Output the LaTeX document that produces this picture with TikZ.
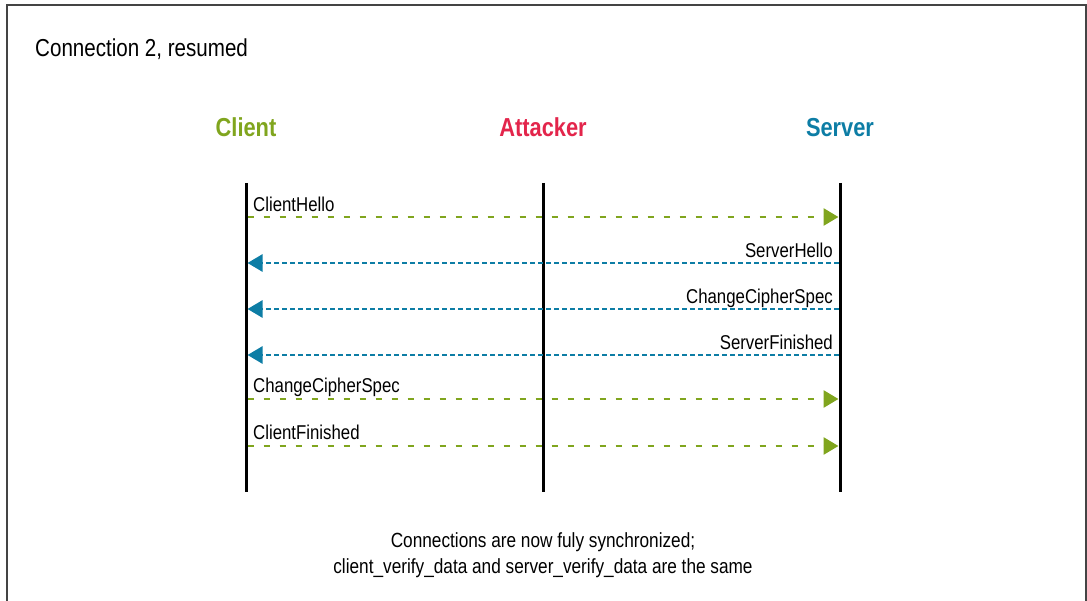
\documentclass[tikz,border=0pt]{standalone}
\usepackage{fontspec}
\setmainfont{Liberation Sans}[FakeStretch=0.84]
\usetikzlibrary{arrows.meta}
\definecolor{cgreen}{HTML}{80A51E}
\definecolor{cred}{HTML}{E3254B}
\definecolor{cblue}{HTML}{0D7DA5}
\definecolor{cframe}{HTML}{444444}
\tikzset{
  frameline/.style={draw=cframe, line width=1.8pt},
  lifeline/.style={draw=black, line width=3pt},
  actor/.style={font=\fontsize{26}{30}\selectfont\bfseries, anchor=base, inner sep=0pt},
  msgC/.style={draw=cgreen, line width=2.8pt, dash pattern=on 6pt off 10pt, -{Triangle[length=15pt,width=17pt]}},
  msgS/.style={draw=cblue, line width=2.6pt, dash pattern=on 5pt off 3pt, -{Triangle[length=15pt,width=17pt]}},
  lblL/.style={font=\fontsize{20}{24}\selectfont, anchor=base west, inner sep=0pt},
  lblR/.style={font=\fontsize{20}{24}\selectfont, anchor=base east, inner sep=0pt},
  note/.style={font=\fontsize{20.5}{24}\selectfont, anchor=base, inner sep=0pt},
}
\begin{document}
\begin{tikzpicture}[x=1pt,y=-1pt]
\useasboundingbox (0,0) rectangle (1087,601);
% frame
\coordinate (fbl) at (7,602);
\coordinate (ftl) at (7,5);
\coordinate (ftr) at (1086,5);
\coordinate (fbr) at (1086,602);
\draw[frameline] (fbl) -- (ftl) -- (ftr) -- (fbr);
% title
\node[font=\fontsize{24.5}{28}\selectfont, anchor=base west, inner sep=0pt] (title) at (35,57) {Connection 2, resumed};
% actors
\node[actor, text=cgreen] (client) at (246,137) {Client};
\node[actor, text=cred] (attacker) at (543,137) {Attacker};
\node[actor, text=cblue] (server) at (840,137) {Server};
% lifelines
\coordinate (ct) at (246,183); \coordinate (cb) at (246,492);
\coordinate (at) at (543,183); \coordinate (ab) at (543,492);
\coordinate (st) at (840,183); \coordinate (sb) at (840,492);
\draw[lifeline] (ct) -- (cb);
\draw[lifeline] (at) -- (ab);
\draw[lifeline] (st) -- (sb);
% message endpoints
\foreach \n/\y in {1/217,2/263,3/309,4/355,5/399,6/446}{
  \coordinate (c\n) at (247.5,\y);
  \coordinate (s\n) at (838.5,\y);
}
\draw[msgC] (c1) -- (s1);
\draw[msgS] (s2) -- (c2);
\draw[msgS] (s3) -- (c3);
\draw[msgS] (s4) -- (c4);
\draw[msgC] (c5) -- (s5);
\draw[msgC] (c6) -- (s6);
% labels
\node[lblL] (l1) at (253,212) {ClientHello};
\node[lblR] (l2) at (833,258) {ServerHello};
\node[lblR] (l3) at (833,304) {ChangeCipherSpec};
\node[lblR] (l4) at (833,350) {ServerFinished};
\node[lblL] (l5) at (253,393) {ChangeCipherSpec};
\node[lblL] (l6) at (253,439) {ClientFinished};
% bottom note
\node[note] (note1) at (543,547) {Connections are now fuly synchronized;};
\node[note] (note2) at (543,573) {client\_verify\_data and server\_verify\_data are the same};
\end{tikzpicture}
\end{document}
